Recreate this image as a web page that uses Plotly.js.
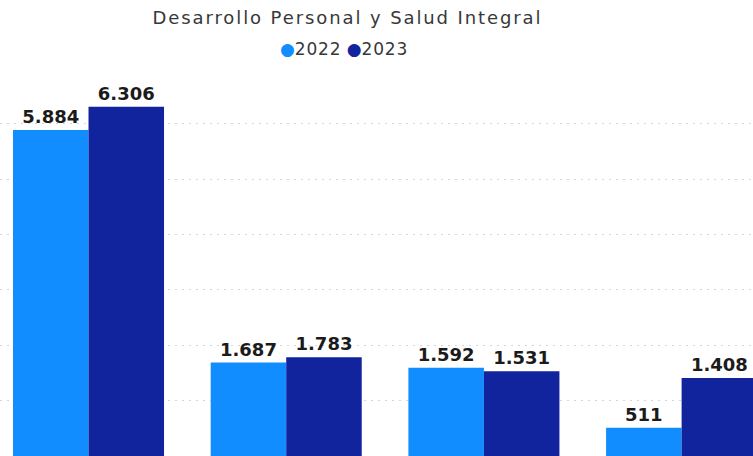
<!DOCTYPE html>
<html>
<head>
<meta charset="utf-8">
<script src="https://cdn.plot.ly/plotly-3.0.1.min.js"></script>
<style>html,body{margin:0;padding:0;background:#fff;}#chart{width:753px;height:456px;}</style>
</head>
<body>
<div id="chart"></div>
<script>
var categories = ["Categoría 1", "Categoría 2", "Categoría 3", "Categoría 4"];
var values2022 = [5884, 1687, 1592, 511];
var values2023 = [6306, 1783, 1531, 1408];
var seriesNames = ["2022", "2023"];
var colors = ["#118DFF", "#12239E"];
var titleText = "Desarrollo Personal y Salud Integral";

var labelFont = {family: "DejaVu Sans", size: 18, color: "#1b1b1b", weight: "bold"};

var traces = [
  {type: "bar", name: seriesNames[0], x: categories, y: values2022, marker: {color: colors[0]},
   texttemplate: "%{y:,}", textposition: "outside", textfont: labelFont, cliponaxis: false,
   showlegend: false, hoverinfo: "x+y+name"},
  {type: "bar", name: seriesNames[1], x: categories, y: values2023, marker: {color: colors[1]},
   texttemplate: "%{y:,}", textposition: "outside", textfont: labelFont, cliponaxis: false,
   showlegend: false, hoverinfo: "x+y+name"}
];

var legendText = '<span style="color:' + colors[0] + '">●</span>' +
  '<span style="letter-spacing:0.8px">' + seriesNames[0] + '</span> ' +
  '<span style="color:' + colors[1] + '">●</span>' +
  '<span style="letter-spacing:0.8px">' + seriesNames[1] + '</span>';

var layout = {
  width: 753, height: 456,
  margin: {l: 0, r: 0, t: 70, b: 0, pad: 0},
  paper_bgcolor: "#ffffff", plot_bgcolor: "#ffffff",
  separators: ",.",
  barmode: "group",
  bargap: 0.236,
  bargroupgap: 0,
  showlegend: false,
  title: {
    text: '<span style="letter-spacing:1.9px">' + titleText + '</span>',
    font: {family: "DejaVu Sans", size: 18, color: "#383838"},
    x: 347.5/753, xanchor: "center", xref: "paper",
    y: 1 - 18/456, yanchor: "middle", yref: "container"
  },
  xaxis: {
    type: "category",
    range: [-0.4477, 3.3611],
    showticklabels: false, showgrid: false, zeroline: false, showline: false, ticks: ""
  },
  yaxis: {
    range: [0, 6968],
    dtick: 1000, tick0: 0,
    showticklabels: false, zeroline: false, showline: false, ticks: "",
    showgrid: true, gridcolor: "#d4d4d4", gridwidth: 1, griddash: "2px,5px"
  },
  annotations: [{
    text: legendText, showarrow: false,
    xref: "paper", yref: "paper",
    x: 344/753, xanchor: "center",
    y: (456 - 49)/386, yanchor: "middle",
    font: {family: "DejaVu Sans", size: 17, color: "#383838"}
  }]
};

Plotly.newPlot("chart", traces, layout, {displayModeBar: false, staticPlot: true});
</script>
</body>
</html>
